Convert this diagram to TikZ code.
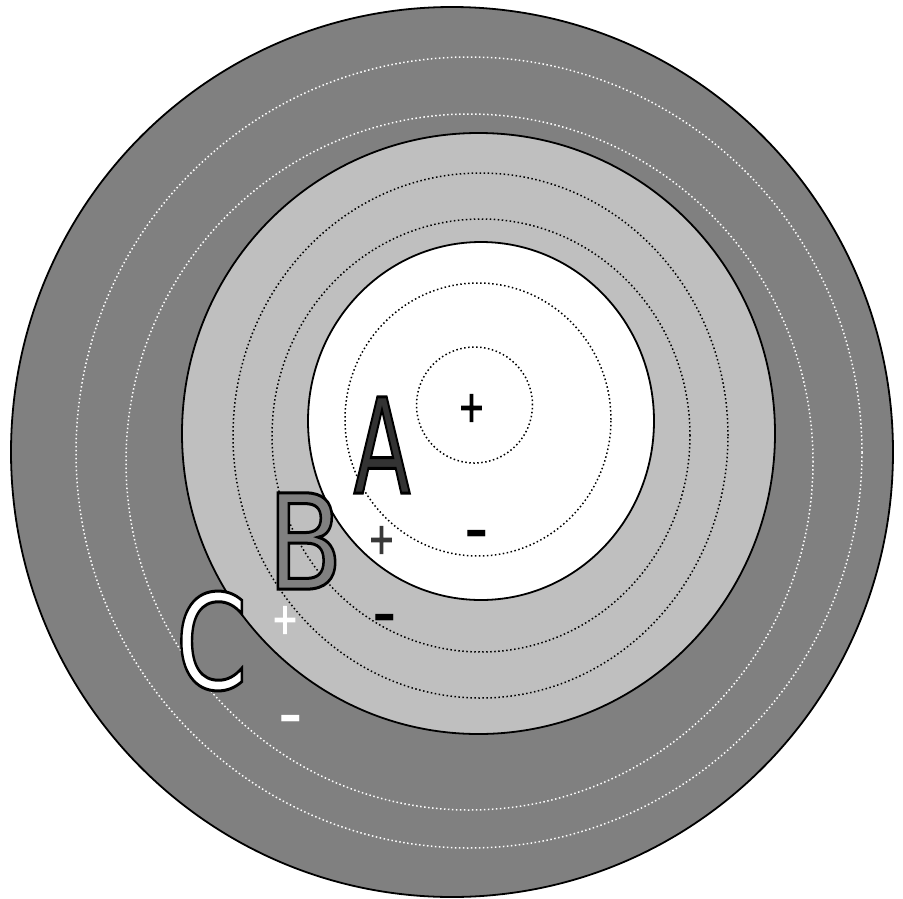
\documentclass[tikz,border=0pt]{standalone}
\usepackage{fontspec}
\setmainfont{DejaVu Sans}
\usepackage{graphicx}
\definecolor{darkring}{gray}{0.5}
\definecolor{lightring}{gray}{0.75}
\definecolor{letterA}{gray}{0.2}
\definecolor{plusB}{gray}{0.22}
% text drawn filled and stroked (PDF text render mode 2)
\newcommand{\strokedtext}[3]{\special{pdf:literal direct #2 w 2 Tr #3}#1\special{pdf:literal direct 0 Tr}}
\newcommand{\bigletter}[3]{\scalebox{#1}[1]{\fontsize{132pt}{132pt}\selectfont\textcolor{#2}{\strokedtext{#3}{3}{0 0 0 RG}}}}
\newcommand{\plussign}[1]{\scalebox{0.74}[1]{\fontsize{43pt}{43pt}\selectfont\strokedtext{+}{1.3}{#1}}}
\newcommand{\minussign}{\scalebox{0.85}[1]{\fontsize{80pt}{80pt}\selectfont -}}
\begin{document}
\begin{tikzpicture}[x=1pt,y=-1pt,
  ring/.style={line width=1.8pt, draw=black},
  dotring/.style={line width=1.5pt, dash pattern=on 1.5pt off 2.5pt},
  sign/.style={inner sep=0pt, outer sep=0pt},
  letter/.style={inner sep=0pt, outer sep=0pt}]
\useasboundingbox (0,0) rectangle (903,898);
\fill[white] (0,0) rectangle (903,898);
% outer zone
\draw[ring, fill=darkring] (452,452) ellipse [x radius=441pt, y radius=445pt];
\draw[dotring, draw=white] (469,452.5) ellipse [x radius=393pt, y radius=395.5pt];
\draw[dotring, draw=white] (469.5,462) ellipse [x radius=343.5pt, y radius=348pt];
% middle zone
\draw[ring, fill=lightring] (478.5,433.5) ellipse [x radius=296.5pt, y radius=300.5pt];
\draw[dotring, draw=black] (480.5,435.5) ellipse [x radius=247.5pt, y radius=262.5pt];
\draw[dotring, draw=black] (481,435.5) ellipse [x radius=209pt, y radius=216.5pt];
% inner zone
\draw[ring, fill=white] (481,421) ellipse [x radius=173pt, y radius=179pt];
\draw[dotring, draw=black] (478,419.5) ellipse [x radius=133pt, y radius=136.5pt];
\draw[dotring, draw=black] (474.5,405) ellipse [x radius=58pt, y radius=58pt];
% signs
\node[sign, text=black] (plusA) at (471.5,408) {\plussign{0 0 0 RG}};
\node[sign, text=black] (minusA) at (476.5,543) {\minussign};
\node[sign, text=plusB] (plusB) at (381.5,540) {\plussign{0.22 0.22 0.22 RG}};
\node[sign, text=black] (minusB) at (384.5,627) {\minussign};
\node[sign, text=white] (plusC) at (285,620) {\plussign{1 1 1 RG}};
\node[sign, text=white] (minusC) at (291,728) {\minussign};
% letters
\node[letter] (A) at (382,445) {\bigletter{0.63}{letterA}{A}};
\node[letter] (B) at (305,541) {\bigletter{0.84}{darkring}{B}};
\node[letter] (C) at (211.5,641) {\bigletter{0.78}{white}{C}};
\end{tikzpicture}
\end{document}
